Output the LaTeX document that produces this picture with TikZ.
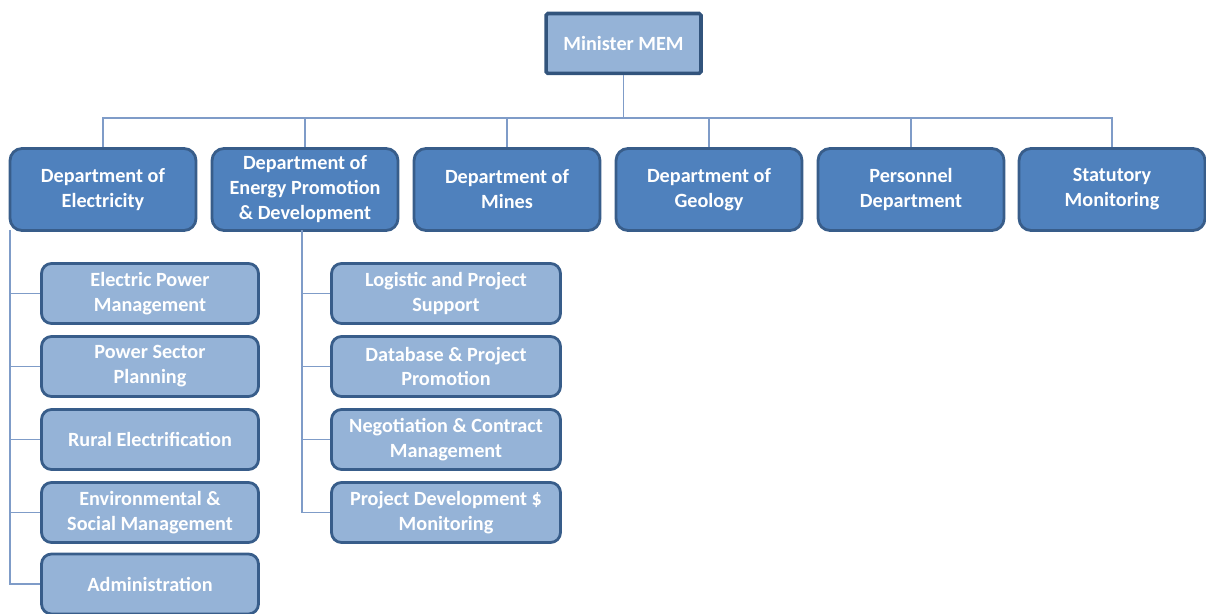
\documentclass[tikz,border=0pt]{standalone}
\usepackage{fontspec}
\setmainfont{Carlito}
\definecolor{deptblue}{HTML}{4F81BD}
\definecolor{unitblue}{HTML}{95B3D7}
\definecolor{rimblue}{HTML}{385D8A}
\definecolor{linkblue}{HTML}{7F9CC8}
\begin{document}
\begin{tikzpicture}[x=0.02cm,y=-0.02cm,
    boxtext/.style={text=white,font=\fontsize{11.5}{14.2}\selectfont\bfseries,align=center,inner sep=0pt},
    minbox/.style={boxtext,draw=rimblue!90!black,fill=unitblue,line width=2pt,rounded corners=1pt,minimum width=3.1cm,minimum height=1.2cm},
    deptbox/.style={boxtext,draw=rimblue,fill=deptblue,line width=1.6pt,rounded corners=0.24cm,minimum width=3.72cm,minimum height=1.64cm},
    unitbox/.style={boxtext,draw=rimblue,fill=unitblue,line width=1.6pt,rounded corners=0.2cm,minimum width=4.34cm,minimum height=1.2cm},
    wideunit/.style={unitbox,minimum width=4.58cm},
    link/.style={draw=linkblue,line width=0.7pt}]
  \useasboundingbox (0,0) rectangle (1206,614);
  \node[minbox] (mem) at (623.5,43.5) {Minister MEM};
  \coordinate (bus) at (623.5,118);
  % departments
  \node[deptbox] (elec) at (103,189.5) {Department of\\Electricity};
  \node[deptbox] (energy) at (305,189.5) {Department of\\Energy Promotion\\\& Development};
  \node[deptbox] (mines) at (507,189.5) {Department of\\Mines};
  \node[deptbox] (geo) at (709,189.5) {Department of\\Geology};
  \node[deptbox] (pers) at (911,189.5) {Personnel\\Department};
  \node[deptbox] (stat) at (1112,189.5) {Statutory\\Monitoring};
  \draw[link] (mem) -- (bus);
  \draw[link] (elec.north) |- (bus) -| (stat.north);
  \foreach \d in {energy,mines,geo,pers}
    \draw[link] (\d.north) -- (\d.north |- bus);
  % electricity units
  \node[unitbox] (epm) at (150,293.5) {Electric Power\\Management};
  \node[unitbox] (psp) at (150,366.5) {Power Sector\\Planning};
  \node[unitbox] (rur) at (150,439.5) {Rural Electrification};
  \node[unitbox] (esm) at (150,512.5) {Environmental \&\\Social Management};
  \node[unitbox] (adm) at (150,584) {Administration};
  \coordinate (etrunk) at (10,230);
  \draw[link] (etrunk) |- (adm.west);
  \foreach \u in {epm,psp,rur,esm}
    \draw[link] (\u.west) -- (\u.west -| etrunk);
  % energy promotion units
  \node[wideunit] (lps) at (446,293.5) {Logistic and Project\\Support};
  \node[wideunit] (dpp) at (446,366.5) {Database \& Project\\Promotion};
  \node[wideunit] (ncm) at (446,439.5) {Negotiation \& Contract\\Management};
  \node[wideunit] (pdm) at (446,512.5) {Project Development \$\\Monitoring};
  \coordinate (ptrunk) at (302,230);
  \draw[link] (ptrunk) |- (pdm.west);
  \foreach \u in {lps,dpp,ncm}
    \draw[link] (\u.west) -- (\u.west -| ptrunk);
\end{tikzpicture}
\end{document}
